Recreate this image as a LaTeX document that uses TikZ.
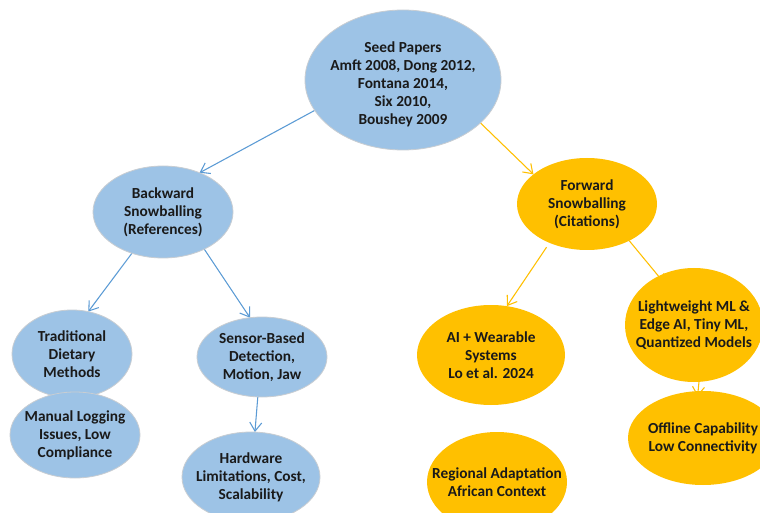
\documentclass[tikz,border=0pt]{standalone}
\usepackage{fontspec}
\setmainfont{Carlito}
\usetikzlibrary{shapes.geometric,arrows.meta,backgrounds}
\definecolor{bfill}{HTML}{9DC3E6}
\definecolor{bline}{HTML}{C8CDD2}
\definecolor{yfill}{HTML}{FFC000}
\definecolor{barrow}{HTML}{5B9BD5}
\definecolor{yarrow}{HTML}{FFC000}
\definecolor{txt}{HTML}{1A1A1A}
\pgfdeclarelayer{background}
\pgfsetlayers{background,main}
\begin{document}
\begin{tikzpicture}[x=0.75pt,y=-0.75pt,
  bub/.style 2 args={ellipse, inner sep=0pt, outer sep=0pt,
     minimum width={#1*0.75pt}, minimum height={#2*0.75pt}},
  bluebub/.style={fill=bfill, draw=bline, line width=0.6pt},
  yelbub/.style={fill=yfill, draw=none},
  lbl/.style={align=center, text=txt, font=\fontsize{11.5}{13.5}\selectfont\bfseries, inner sep=0pt},
  barr/.style={draw=barrow, line width=0.8pt, -{Straight Barb[length=6.5pt,width=9pt]}},
  yarr/.style={draw=yarrow, line width=0.8pt, -{Straight Barb[length=6.5pt,width=9pt]}}
]
\useasboundingbox (0,0) rectangle (760,513);
\clip (0,0) rectangle (760,513);

% nodes
\node[bub={196}{140}, bluebub, label={[lbl, yshift=-3pt]center:{Seed Papers\\Amft 2008, Dong 2012,\\Fontana 2014,\\Six 2010,\\Boushey 2009}}] (seed) at (403,80) {};
\node[bub={140}{92}, bluebub, label={[lbl]center:{Backward\\Snowballing\\(References)}}] (back) at (163,212) {};
\node[bub={140}{92}, yelbub, label={[lbl]center:{Forward\\Snowballing\\(Citations)}}] (fwd) at (587,204) {};
\node[bub={120}{88}, bluebub, label={[lbl]center:{Traditional\\Dietary\\Methods}}] (trad) at (72,354) {};
\node[bub={130}{86}, bluebub, label={[lbl]center:{Manual Logging\\Issues, Low\\Compliance}}] (manual) at (75,435) {};
\node[bub={130}{80}, bluebub, label={[lbl]center:{Sensor-Based\\Detection,\\Motion, Jaw}}] (sensor) at (262,357) {};
\node[bub={138}{90}, bluebub, label={[lbl]center:{Hardware\\Limitations, Cost,\\Scalability}}] (hw) at (251,477) {};
\node[bub={148}{100}, yelbub, label={[lbl]center:{AI + Wearable\\Systems\\Lo et al. 2024}}] (ai) at (491,355) {};
\node[bub={140}{100}, yelbub, label={[lbl]center:{Regional Adaptation\\African Context}}] (reg) at (497,482) {};
\node[bub={138}{114}, yelbub, label={[lbl]center:{Lightweight ML \&\\Edge AI, Tiny ML,\\Quantized Models}}] (light) at (694,325) {};
\node[bub={150}{94}, yelbub, label={[lbl]center:{Offline Capability\\Low Connectivity}}] (off) at (703,438) {};

% connectors
\begin{pgfonlayer}{background}
\fill[white] (0,0) rectangle (760,513);
\draw[barr] (seed.199) -- (back.47);
\draw[yarr] (seed.331) -- (fwd.151);
\draw[barr] (back.233) -- (trad.69);
\draw[barr] (back.318) -- (sensor.107);
\draw[barr] (sensor.264) -- (hw.85);
\draw[yarr, shorten <=4pt] (fwd.226) -- (ai.72);
\draw[yarr, shorten >=-8pt] (fwd.319) -- (light.126);
\draw[yarr, shorten >=-4pt] (light.275) -- (off.96);
\end{pgfonlayer}
\end{tikzpicture}
\end{document}
